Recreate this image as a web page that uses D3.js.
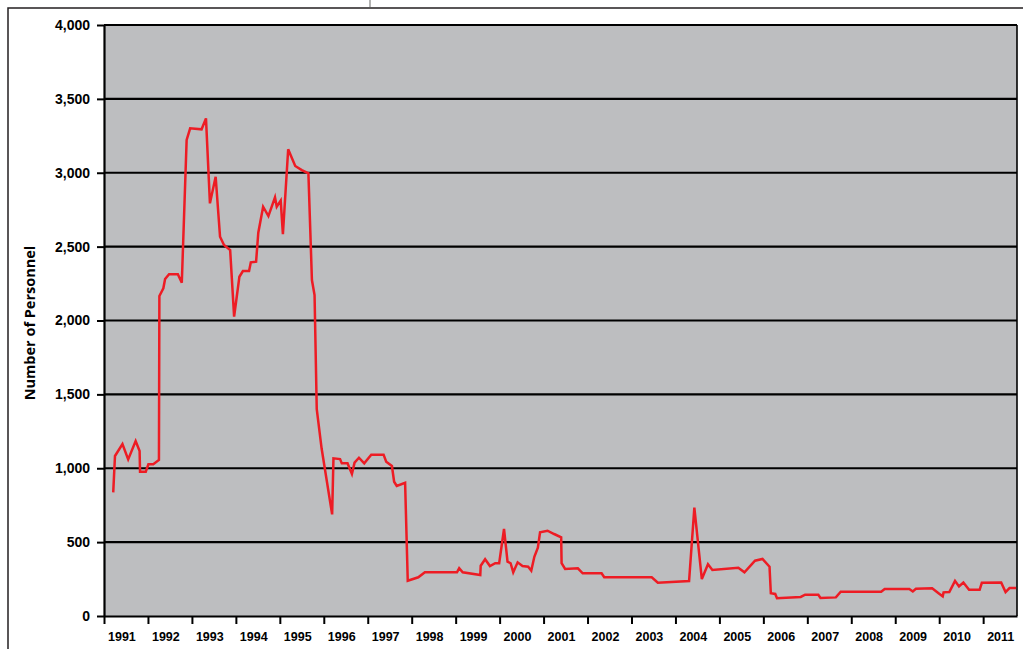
<!DOCTYPE html>
<html>
<head>
<meta charset="utf-8">
<script src="https://cdn.jsdelivr.net/npm/d3@7"></script>
<style>
  body { margin: 0; background: #fff; }
  svg { display: block; }
</style>
</head>
<body>
<svg id="chart" width="1023" height="649"></svg>
<script>
// tick labels
const years = d3.range(1991, 2012);
const yTicks = [0, 500, 1000, 1500, 2000, 2500, 3000, 3500, 4000];

// series (decimal year / personnel)
const dates = [
  1991.21, 1991.25, 1991.42, 1991.55, 1991.72, 1991.81, 1991.82, 1991.95, 1992.01, 1992.12,
  1992.25, 1992.26, 1992.35, 1992.39, 1992.48, 1992.68, 1992.77, 1992.88, 1992.96, 1993.22,
  1993.32, 1993.41, 1993.54, 1993.64, 1993.73, 1993.87, 1993.96, 1994.08, 1994.16, 1994.30,
  1994.34, 1994.46, 1994.51, 1994.62, 1994.74, 1994.89, 1994.93, 1995.02, 1995.07, 1995.19,
  1995.35, 1995.50, 1995.65, 1995.73, 1995.79, 1995.84, 1995.95, 1996.19, 1996.22, 1996.37,
  1996.41, 1996.54, 1996.64, 1996.70, 1996.80, 1996.92, 1997.08, 1997.36, 1997.42, 1997.55,
  1997.60, 1997.66, 1997.85, 1997.91, 1998.15, 1998.30, 1999.03, 1999.08, 1999.16, 1999.56,
  1999.57, 1999.67, 1999.78, 1999.90, 1999.99, 2000.10, 2000.18, 2000.25, 2000.31, 2000.41,
  2000.52, 2000.65, 2000.72, 2000.79, 2000.87, 2000.92, 2001.09, 2001.24, 2001.40, 2001.41,
  2001.49, 2001.78, 2001.89, 2002.32, 2002.38, 2003.46, 2003.60, 2004.31, 2004.43, 2004.60,
  2004.74, 2004.84, 2005.43, 2005.57, 2005.81, 2005.98, 2006.14, 2006.17, 2006.27, 2006.31,
  2006.85, 2006.95, 2007.25, 2007.30, 2007.65, 2007.76, 2008.68, 2008.76, 2009.32, 2009.40,
  2009.47, 2009.84, 2010.00, 2010.08, 2010.10, 2010.23, 2010.36, 2010.45, 2010.55, 2010.68,
  2010.92, 2010.97, 2011.41, 2011.51, 2011.60, 2011.75
];
const personnel = [
  837, 1083, 1164, 1060, 1184, 1117, 977, 977, 1027, 1027,
  1056, 2166, 2218, 2281, 2313, 2313, 2256, 3222, 3301, 3294,
  3368, 2793, 2973, 2567, 2511, 2477, 2026, 2296, 2335, 2335,
  2394, 2398, 2594, 2770, 2707, 2834, 2770, 2811, 2585, 3159,
  3046, 3018, 2996, 2274, 2172, 1400, 1135, 688, 1067, 1062,
  1033, 1033, 961, 1038, 1071, 1033, 1092, 1092, 1044, 1015,
  909, 880, 902, 239, 262, 296, 296, 323, 296, 277,
  340, 384, 338, 357, 357, 589, 368, 357, 296, 363,
  338, 334, 307, 401, 462, 566, 577, 555, 533, 357,
  318, 323, 289, 289, 262, 262, 225, 237, 733, 250,
  350, 311, 327, 296, 374, 386, 334, 154, 149, 120,
  129, 144, 144, 122, 126, 164, 164, 183, 183, 166,
  184, 187, 151, 133, 160, 162, 238, 200, 227, 177,
  177, 225, 227, 162, 189, 189
];

const svg = d3.select("#chart");
const plotLeft = 104, plotRight = 1017, plotTop = 25, plotBottom = 616;

const x = d3.scaleLinear().domain([1991, 2011.77]).range([plotLeft, plotRight]);
const y = d3.scaleLinear().domain([0, 4000]).range([plotBottom, plotTop]);

// page frame
svg.append("rect")
  .attr("x", 8).attr("y", 8)
  .attr("width", 1100).attr("height", 700)
  .attr("fill", "none")
  .attr("stroke", "#231f20")
  .attr("stroke-width", 1.5);
svg.append("line")
  .attr("x1", 370).attr("x2", 370)
  .attr("y1", 0).attr("y2", 7)
  .attr("stroke", "#808080")
  .attr("stroke-width", 1.2);

// plot area
svg.append("rect")
  .attr("x", plotLeft).attr("y", plotTop)
  .attr("width", plotRight - plotLeft).attr("height", plotBottom - plotTop)
  .attr("fill", "#bdbec0");

svg.append("g")
  .selectAll("line")
  .data(yTicks.filter(d => d > 0))
  .join("line")
  .attr("x1", plotLeft).attr("x2", plotRight)
  .attr("y1", d => y(d)).attr("y2", d => y(d))
  .attr("stroke", "#000")
  .attr("stroke-width", 2.2);

svg.append("line")
  .attr("x1", plotRight).attr("x2", plotRight)
  .attr("y1", plotTop).attr("y2", plotBottom)
  .attr("stroke", "#000")
  .attr("stroke-width", 1.6);

// y axis
const yAxis = svg.append("g")
  .attr("transform", `translate(${plotLeft},0)`)
  .call(d3.axisLeft(y).tickValues(yTicks).tickSize(7).tickSizeOuter(0).tickPadding(7).tickFormat(d3.format(",")));
yAxis.select(".domain").attr("stroke-width", 2.2);
yAxis.selectAll(".tick line").attr("stroke-width", 2);
yAxis.selectAll("text")
  .attr("font-family", "'Liberation Sans', Arial, sans-serif")
  .attr("font-weight", "bold")
  .attr("font-size", 14)
  .attr("fill", "#000");

// x axis
const xAxis = svg.append("g")
  .attr("transform", `translate(0,${plotBottom})`)
  .call(d3.axisBottom(x).tickValues(years).tickSize(8).tickSizeOuter(0).tickFormat(""));
xAxis.select(".domain").attr("stroke-width", 2.2);
xAxis.selectAll(".tick line").attr("stroke-width", 2);

svg.append("g")
  .selectAll("text")
  .data(years)
  .join("text")
  .attr("x", d => x(d) + 4)
  .attr("y", 641)
  .attr("font-family", "'Liberation Sans', Arial, sans-serif")
  .attr("font-weight", "bold")
  .attr("font-size", 12.5)
  .text(d => d);

// axis title
svg.append("text")
  .attr("transform", "translate(35,323) rotate(-90)")
  .attr("text-anchor", "middle")
  .attr("font-family", "'Open Sans', sans-serif")
  .attr("font-weight", "bold")
  .attr("font-size", 14.5)
  .text("Number of Personnel");

// the series
const line = d3.line()
  .x((d, i) => x(dates[i]))
  .y(d => y(d));

svg.append("path")
  .datum(personnel)
  .attr("d", line)
  .attr("fill", "none")
  .attr("stroke", "#ed1c24")
  .attr("stroke-width", 2.5)
  .attr("stroke-linejoin", "miter");
</script>
</body>
</html>
